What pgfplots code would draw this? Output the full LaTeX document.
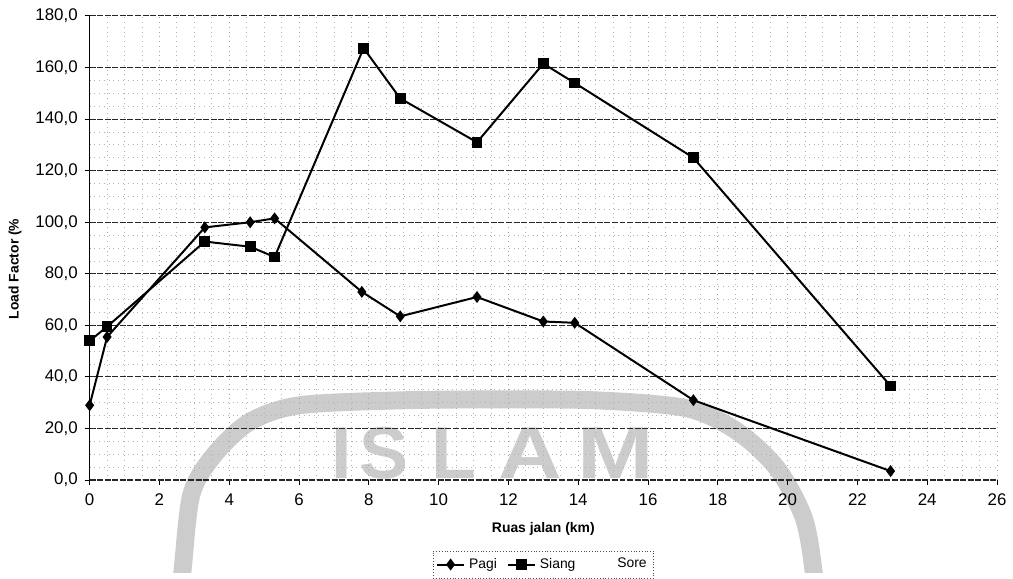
\documentclass[border=0pt]{standalone}
\usepackage{fontspec}
\setmainfont{Liberation Sans}
\usepackage{pgfplots}
\pgfplotsset{compat=1.18}
\begin{document}
\begin{tikzpicture}
% bounding box and faint watermark
\path (-45bp,-46.5bp) rectangle (461.5bp,241bp);
\begin{scope}
\clip (-45bp,-46.5bp) rectangle (461.5bp,241bp);
\draw[black!20, line width=9bp] plot[smooth] coordinates {(44bp,-62bp) (46.5bp,-46.5bp) (51bp,-7.5bp) (62bp,12bp) (80bp,29bp) (105bp,37.5bp) (155bp,40bp) (205bp,40.5bp) (255bp,40bp) (300bp,36bp) (325bp,24.5bp) (345bp,6bp) (358.5bp,-19bp) (363.5bp,-46.5bp) (364bp,-62bp)};
\end{scope}
\begin{scope}[every node/.style={anchor=base, text=black!20, inner sep=0pt, font=\fontsize{37}{37}\selectfont\bfseries}]
\node at (126.5bp,1bp) {I};
\node at (148bp,1bp) {S};
\node at (183bp,1bp) {L};
\node[xscale=1.2] at (221bp,1bp) {A};
\node[xscale=1.25] at (264bp,1bp) {M};
\end{scope}
\begin{axis}[
  scale only axis, width=455.5bp, height=233bp,
  xmin=0, xmax=26, ymin=0, ymax=180,
  xtick={0,2,...,26}, ytick={0,20,...,160},
  extra y ticks={180},
  extra y tick style={grid style={black!35, dotted, line width=0.4pt}},
  minor x tick num=3, minor y tick num=3,
  axis x line=bottom, axis y line=left, axis line style={-},
  x axis line style={black!85, dash pattern=on 3bp off 0.8bp, line width=0.6pt},
  y axis line style={black, line width=0.6pt},
  tick align=outside, major tick length=2.5bp, minor tick length=0pt,
  tick style={black, line width=0.5pt},
  xmajorgrids, ymajorgrids, xminorgrids, yminorgrids,
  major y grid style={black!85, dash pattern=on 3bp off 0.8bp, line width=0.5pt},
  major x grid style={black!35, dotted, line width=0.4pt},
  minor grid style={black!30, dotted, line width=0.4pt},
  /pgf/number format/assume math mode=true,
  ticklabel style={font=\fontsize{8.5}{10}\selectfont},
  xticklabel style={yshift=-1bp},
  yticklabel style={/pgf/number format/.cd, fixed, fixed zerofill, precision=1, use comma},
  xlabel={\textbf{Ruas jalan (km)}},
  ylabel={\textbf{Load Factor (\%}},
  label style={font=\fontsize{7}{8}\selectfont},
  xlabel style={at={(axis description cs:0.5,-0.105)}, anchor=center},
  ylabel style={at={(axis description cs:-0.0823,0.455)}, anchor=center},
  legend style={at={(0.5,-0.152)}, anchor=north, legend columns=3,
    draw=black!70, densely dotted, font=\fontsize{7}{8}\selectfont,
    inner sep=1.5bp, row sep=0pt,
    /tikz/every even column/.append style={column sep=3bp}},
  legend image code/.code={\draw[mark repeat=2,mark phase=2] plot coordinates {(0cm,0cm) (0.24cm,0cm) (0.48cm,0cm)};},
  clip=false,
]
\addplot[black, solid, line width=1bp, mark=diamond*, mark size=2.2bp, mark options={solid}] coordinates {
 (0,29) (0.5,55.5) (3.3,98) (4.6,100) (5.3,101.5) (7.8,73) (8.9,63.5)
 (11.1,71) (13.0,61.5) (13.9,61) (17.3,31) (22.95,3.5)};
\addlegendentry{Pagi}
\addplot[black, solid, line width=1bp, mark=square*, mark size=2.2bp, mark options={solid}] coordinates {
 (0,54) (0.5,59.5) (3.3,92.5) (4.6,90.5) (5.3,86.5) (7.85,167.5) (8.9,148)
 (11.1,131) (13.0,161.5) (13.9,154) (17.3,125) (22.95,36.5)};
\addlegendentry{Siang}
\addlegendimage{opacity=0, mark=none}
\addlegendentry{Sore}
\end{axis}
\end{tikzpicture}
\end{document}
